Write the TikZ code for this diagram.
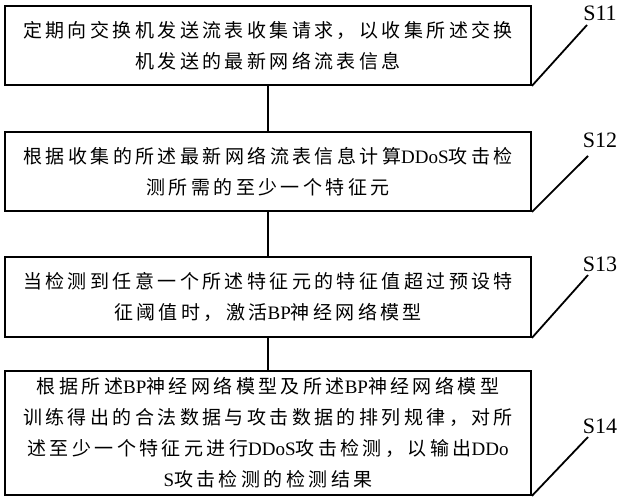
\documentclass[tikz,border=0pt]{standalone}
\usepackage{fontspec}
\setmainfont{Liberation Serif}
\newfontfamily\cjkfont[LetterSpace=18]{Noto Sans CJK SC}
\newcommand\zh[1]{{\cjkfont #1}}
\begin{document}
\begin{tikzpicture}[x=1pt,y=-1pt,
  box/.style={draw, line width=1.8pt, minimum width=526pt, inner sep=0pt, align=center, font=\fontsize{19}{31}\selectfont},
  link/.style={line width=1.5pt},
  lead/.style={line width=1.8pt},
  lbl/.style={font=\fontsize{22}{22}\selectfont, inner sep=0pt}]
\useasboundingbox (0,0) rectangle (620,500);
\node[box, minimum height=79pt] (b1) at (268,45.5) {\zh{定期向交换机发送流表收集请求，以收集所述交换}\\\zh{机发送的最新网络流表信息}};
\node[box, minimum height=79pt] (b2) at (268,171.5) {\zh{根据收集的所述最新网络流表信息计算}DDoS\zh{攻击检}\\\zh{测所需的至少一个特征元}};
\node[box, minimum height=80pt] (b3) at (268,297) {\zh{当检测到任意一个所述特征元的特征值超过预设特}\\\zh{征阈值时，激活}BP\zh{神经网络模型}};
\node[box, minimum height=124pt] (b4) at (268,433) {\zh{根据所述}BP\zh{神经网络模型及所述}BP\zh{神经网络模型}\\\zh{训练得出的合法数据与攻击数据的排列规律，对所}\\\zh{述至少一个特征元进行}DDoS\zh{攻击检测，以输出}DDo\\S\zh{攻击检测的检测结果}};
\draw[link] (b1) -- (b2);
\draw[link] (b2) -- (b3);
\draw[link] (b3) -- (b4);
\node[lbl] (s1) at (600,13) {S11};
\node[lbl] (s2) at (600,140) {S12};
\node[lbl] (s3) at (600,264) {S13};
\node[lbl] (s4) at (600,426) {S14};
\coordinate (e1) at (587,25);
\coordinate (e2) at (588,156);
\coordinate (e3) at (588,275);
\coordinate (e4) at (588,437);
\draw[lead] (b1.south east) -- (e1);
\draw[lead] (b2.south east) -- (e2);
\draw[lead] (b3.south east) -- (e3);
\draw[lead] (b4.south east) -- (e4);
\end{tikzpicture}
\end{document}
